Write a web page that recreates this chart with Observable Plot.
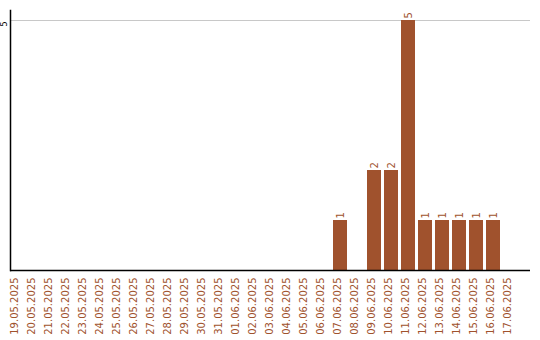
<!DOCTYPE html>
<html>
<head>
<meta charset="utf-8">
<script src="https://cdn.jsdelivr.net/npm/d3@7"></script>
<script src="https://cdn.jsdelivr.net/npm/@observablehq/plot@0.6"></script>
<style>
  html, body { margin: 0; padding: 0; background: #fff; }
</style>
</head>
<body>
<div id="chart"></div>
<script>
const dates = [
  "19.05.2025","20.05.2025","21.05.2025","22.05.2025","23.05.2025","24.05.2025",
  "25.05.2025","26.05.2025","27.05.2025","28.05.2025","29.05.2025","30.05.2025",
  "31.05.2025","01.06.2025","02.06.2025","03.06.2025","04.06.2025","05.06.2025",
  "06.06.2025","07.06.2025","08.06.2025","09.06.2025","10.06.2025","11.06.2025",
  "12.06.2025","13.06.2025","14.06.2025","15.06.2025","16.06.2025","17.06.2025"
];
const counts = [
  0,0,0,0,0,0,
  0,0,0,0,0,0,
  0,0,0,0,0,0,
  0,1,0,2,2,5,
  1,1,1,1,1,0
];
const yTicks = [5];

const data = dates.map((d, i) => ({date: d, count: counts[i]}));
const color = "#A0522D";
const font = "DejaVu Sans, Verdana, sans-serif";

const chart = Plot.plot({
  width: 540,
  height: 340,
  marginLeft: 10,
  marginRight: 10,
  marginTop: 10,
  marginBottom: 70,
  style: {fontFamily: font, background: "#fff"},
  x: {type: "band", domain: dates, paddingInner: 3/17, paddingOuter: 13/34, align: 0, axis: null},
  y: {domain: [0, 5.2], axis: null},
  marks: [
    Plot.ruleY(yTicks, {stroke: "#c8c8c8"}),
    Plot.barY(data.filter(d => d.count > 0), {x: "date", y: "count", fill: color}),
    Plot.text(data.filter(d => d.count > 0), {
      x: "date", y: "count", text: d => String(d.count),
      rotate: -90, textAnchor: "start", dy: -2, fill: color, fontSize: 10
    }),
    Plot.text(data, {
      x: "date", text: "date", frameAnchor: "bottom",
      rotate: -90, textAnchor: "end", dy: 7, fill: color, fontSize: 10
    }),
    Plot.text(yTicks, {
      y: d => d, text: d => String(d), frameAnchor: "left",
      rotate: -90, textAnchor: "end", dx: -6, dy: 1, fill: "#000", fontSize: 8
    }),
    Plot.ruleY([0], {stroke: "#000", strokeWidth: 1.5}),
    Plot.frame({anchor: "left", stroke: "#000", strokeWidth: 1.5})
  ]
});
document.getElementById("chart").appendChild(chart);
</script>
</body>
</html>
